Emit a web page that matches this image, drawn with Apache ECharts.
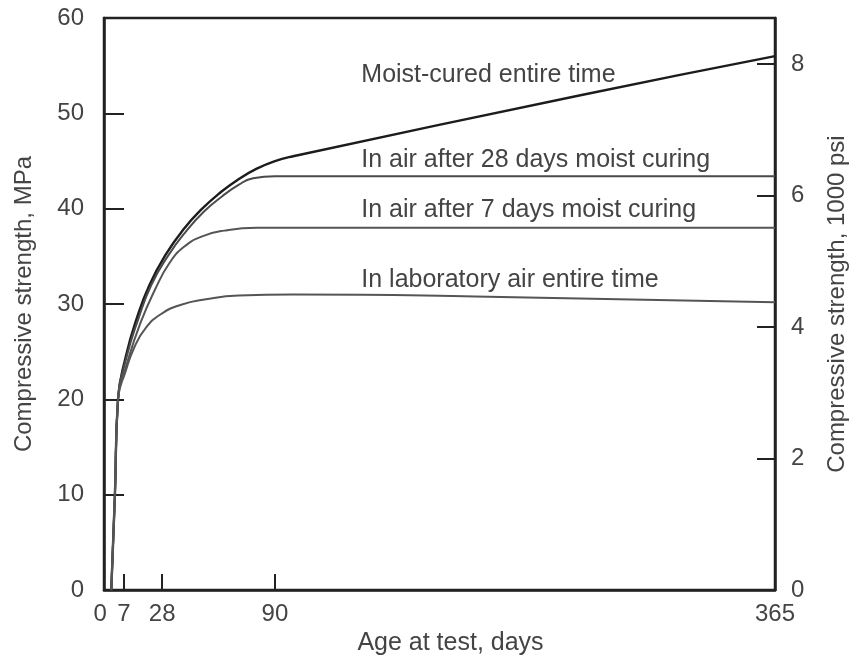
<!DOCTYPE html>
<html>
<head>
<meta charset="utf-8">
<title>Compressive strength vs age</title>
<script src="https://cdn.jsdelivr.net/npm/echarts@6/dist/echarts.min.js"></script>
<style>
  html, body { margin: 0; padding: 0; background: #fff; }
  #chart { width: 857px; height: 661px; }
</style>
</head>
<body>
<div id="chart"></div>
<script>
// age at test (days) and compressive strength (MPa)
const moistCured = [
  [0, 0], [2, 10], [3.7, 20], [8, 24.5], [14, 28.5], [21, 32], [30, 35.2],
  [40, 37.9], [50, 40], [60, 41.7], [70, 43.1], [80, 44.2], [90, 45],
  [100, 45.5], [258, 51.9], [365, 56]
];
const air28Days = [
  [0, 0], [2, 10], [3.7, 20], [8.5, 24.5], [15, 28.5], [22, 32], [31, 35],
  [41, 37.6], [51, 39.7], [61, 41.3], [70, 42.5], [78, 43.2], [90, 43.4],
  [365, 43.4]
];
const air7Days = [
  [0, 0], [2, 10], [3.7, 20], [9, 24], [16, 28], [24, 31.5], [32, 34.3],
  [40, 36], [50, 37.1], [62, 37.7], [80, 38], [365, 38]
];
const labAir = [
  [0, 0], [2, 10], [3.7, 20], [8, 23], [13, 25.6], [19, 27.5], [27, 28.9],
  [38, 29.9], [52, 30.5], [70, 30.9], [100, 31], [200, 30.8], [365, 30.2]
];

const seriesNames = [
  'Moist-cured entire time',
  'In air after 28 days moist curing',
  'In air after 7 days moist curing',
  'In laboratory air entire time'
];
// where each curve's caption sits, in data units [days, MPa]
const captionAt = [[137.5, 54.0], [137.5, 45.1], [137.5, 39.8], [137.5, 32.5]];

const dayTicks = [0, 7, 28, 90, 365];
const mpaTicks = [10, 20, 30, 40, 50];
const psiLabels = [0, 2, 4, 6, 8];
const psiTicks = [2, 4, 6, 8];
const MPA_PER_KSI = 6.895;

const font = 'Liberation Sans, Arial, sans-serif';
const textColor = '#444';
const frameColor = '#222';

const chart = echarts.init(document.getElementById('chart'));

function curve(name, data, idx, color, width) {
  return {
    name: name,
    type: 'line',
    data: data,
    smooth: 0.5,
    showSymbol: false,
    xAxisIndex: 0,
    yAxisIndex: 0,
    lineStyle: { color: color, width: width },
    markPoint: {
      symbol: 'circle',
      symbolSize: 0,
      silent: true,
      label: {
        show: true,
        position: 'right',
        distance: 0,
        formatter: name,
        color: textColor,
        fontFamily: font,
        fontSize: 25
      },
      data: [{ coord: captionAt[idx] }]
    },
    z: 3 + idx
  };
}

chart.setOption({
  animation: false,
  backgroundColor: '#fff',
  textStyle: { fontFamily: font },
  grid: {
    left: 104,
    right: 80,
    top: 18,
    bottom: 65,
    show: true,
    borderColor: frameColor,
    borderWidth: 2.5
  },
  xAxis: {
    type: 'value',
    min: -4,
    max: 365,
    name: 'Age at test, days',
    nameLocation: 'middle',
    nameGap: 27,
    nameTextStyle: { color: textColor, fontSize: 25, padding: [0, 0, 0, 22] },
    axisLine: { onZero: false, lineStyle: { color: frameColor, width: 2.5 } },
    axisTick: {
      inside: true,
      length: 16,
      customValues: [7, 28, 90],
      lineStyle: { color: frameColor, width: 2 }
    },
    axisLabel: {
      customValues: dayTicks,
      margin: 12,
      color: textColor,
      fontSize: 24,
      formatter: function (v) { return v === 0 ? '{z|0}' : String(v); },
      rich: { z: { padding: [0, 22, 0, 0], fontSize: 24, color: textColor } }
    },
    splitLine: { show: false }
  },
  yAxis: [
    {
      type: 'value',
      min: 0,
      max: 60,
      interval: 10,
      name: 'Compressive strength, MPa',
      nameLocation: 'middle',
      nameRotate: 90,
      nameGap: 68,
      nameTextStyle: { color: textColor, fontSize: 24 },
      axisLine: { onZero: false, lineStyle: { color: frameColor, width: 2.5 } },
      axisTick: {
        inside: true,
        length: 20,
        customValues: mpaTicks,
        lineStyle: { color: frameColor, width: 2 }
      },
      axisLabel: { margin: 20, color: textColor, fontSize: 24 },
      splitLine: { show: false }
    },
    {
      type: 'value',
      position: 'right',
      min: 0,
      max: 60 / MPA_PER_KSI,
      name: 'Compressive strength, 1000 psi',
      nameLocation: 'middle',
      nameRotate: 90,
      nameGap: 50,
      nameTextStyle: { color: textColor, fontSize: 24 },
      axisLine: { show: true, onZero: false, lineStyle: { color: frameColor, width: 2.5 } },
      axisTick: {
        inside: true,
        length: 18,
        customValues: psiTicks,
        lineStyle: { color: frameColor, width: 2 }
      },
      axisLabel: {
        customValues: psiLabels,
        margin: 16,
        color: textColor,
        fontSize: 24
      },
      splitLine: { show: false }
    }
  ],
  series: [
    curve(seriesNames[0], moistCured, 0, '#1c1c1c', 2.4),
    curve(seriesNames[1], air28Days, 1, '#4a4a4a', 2),
    curve(seriesNames[2], air7Days, 2, '#555', 2),
    curve(seriesNames[3], labAir, 3, '#555', 2)
  ]
});
</script>
</body>
</html>
